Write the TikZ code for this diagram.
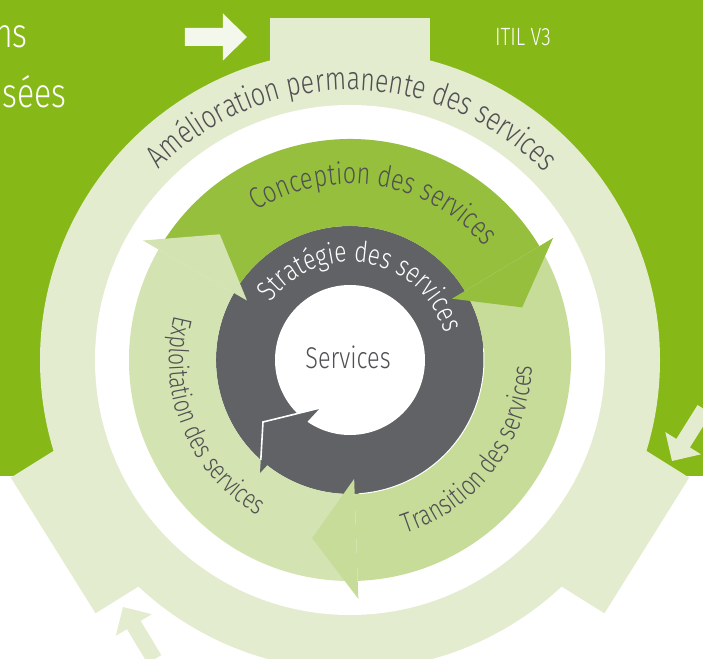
\documentclass[tikz,border=0pt]{standalone}
\usepackage{fontspec}
\IfFontExistsTF{Fira Sans Light}
  {\setmainfont{Fira Sans Light}[FakeStretch=0.78]}
  {\setmainfont{TeX Gyre Heros}[FakeStretch=0.8]}
\usetikzlibrary{decorations.text}

\definecolor{itilgreen}{HTML}{86B817}
\definecolor{ringpale}{HTML}{E3ECCF}
\definecolor{arrowpale}{HTML}{F3F7EC}
\definecolor{conceptgreen}{HTML}{95BF3D}
\definecolor{transgreen}{HTML}{C8DC9A}
\definecolor{exploitgreen}{HTML}{D3E3B1}
\definecolor{strategygrey}{HTML}{616265}
\definecolor{textgrey}{HTML}{505053}

\tikzset{
  bigarrow/.style={fill=arrowpale},
  smallarrow/.style={fill=ringpale},
  whitetext/.style={text=white, inner sep=0pt},
}

\begin{document}
\begin{tikzpicture}[x=1pt,y=1pt]
\useasboundingbox (-350,-298) rectangle (353,360);
\fill[itilgreen] (-350,-116) rectangle (353,360);

\node[whitetext, anchor=base east, font=\fontsize{41}{41}\selectfont] (leftlineone) at (-322,312) {ns};
\node[whitetext, anchor=base east, font=\fontsize{41}{41}\selectfont] (leftlinetwo) at (-283,252) {sées};
\node[whitetext, font=\fontsize{25}{25}\selectfont] (itil) at (173,323) {ITIL V3};

% anneau exterieur
\fill[ringpale] (0,0) circle (310);
\fill[ringpale,rotate=90] (280,-80) rectangle (342,80);
\fill[ringpale,rotate=-32] (280,-80) rectangle (350,80);
\fill[ringpale,rotate=212] (280,-80) rectangle (350,80);
\fill[white] (0,0) circle (255);

\fill[bigarrow] (-165,314) -- (-127,314) -- (-127,299.5) -- (-103,323) -- (-127,346.5) -- (-127,332) -- (-165,332) -- cycle;
\begin{scope}[shift={(322,-101)},rotate=238]
\fill[smallarrow] (-61,-8) -- (-21,-8) -- (-21,-21) -- (0,0) -- (-21,21) -- (-21,8) -- (-61,8) -- cycle;
\end{scope}
\begin{scope}[shift={(-227,-247)},rotate=121]
\fill[smallarrow] (-61,-8) -- (-21,-8) -- (-21,-21) -- (0,0) -- (-21,21) -- (-21,8) -- (-61,8) -- cycle;
\end{scope}

% strategie
\fill[strategygrey] (0,0) circle (134);
\fill[white] (0,0) circle (75);

% corps des fleches
\fill[conceptgreen] (147:221) arc[start angle=147,end angle=31,radius=221] -- (31:134) arc[start angle=31,end angle=147,radius=134] -- cycle;
\fill[transgreen] (28:221) arc[start angle=28,end angle=-88,radius=221] -- (-88:134) arc[start angle=-88,end angle=28,radius=134] -- cycle;
\fill[exploitgreen] (269:221) arc[start angle=269,end angle=150,radius=221] -- (150:134) arc[start angle=150,end angle=269,radius=134] -- cycle;
\draw[white,line width=1pt] (5:134) arc[start angle=5,end angle=-86,radius=134];

\fill[strategygrey] (-30,-48) -- (-87,-62) -- (-90,-113) -- cycle;
\draw[white,line width=1.6pt] (-30,-48) -- (-87,-62) -- (-89.2,-100);

% pointes
\fill[conceptgreen] (31:119) -- (31:237) -- (17:180) -- cycle;
\fill[transgreen] (-88:119) -- (-88:239) -- (-102:182) -- cycle;
\fill[exploitgreen] (150:119) -- (150:239) -- (136:181) -- cycle;

% textes
\node[text=textgrey, font=\fontsize{30}{30}\selectfont] (services) at (-2,3) {Services};

\path[decorate, decoration={text along path, text align=center, text color=textgrey,
  text format delimiters={|}{|}, text={|\fontsize{32}{32}\selectfont|Amélioration permanente des services}}]
  (179.5:270) arc[start angle=179.5,end angle=-0.5,radius=270];
\path[decorate, decoration={text along path, text align=center, text color=textgrey,
  text format delimiters={|}{|}, text={|\fontsize{30}{30}\selectfont|Conception des services}}]
  (171:176) arc[start angle=171,end angle=-9,radius=176];
\path[decorate, decoration={text along path, text align=center, text color=textgrey,
  text format delimiters={|}{|}, text={|\fontsize{28}{28}\selectfont|Transition des services}}]
  (-127:182) arc[start angle=-127,end angle=53,radius=182];
\path[decorate, decoration={text along path, text align=center, text color=textgrey,
  text format delimiters={|}{|}, text={|\fontsize{27}{27}\selectfont|Exploitation des services}}]
  (112.5:181) arc[start angle=112.5,end angle=292.5,radius=181];
\path[decorate, decoration={text along path, text align=center, text color=white,
  text format delimiters={|}{|}, text={|\fontsize{29}{29}\selectfont|Stratégie des services}}]
  (170:98) arc[start angle=170,end angle=-10,radius=98];
\end{tikzpicture}
\end{document}
